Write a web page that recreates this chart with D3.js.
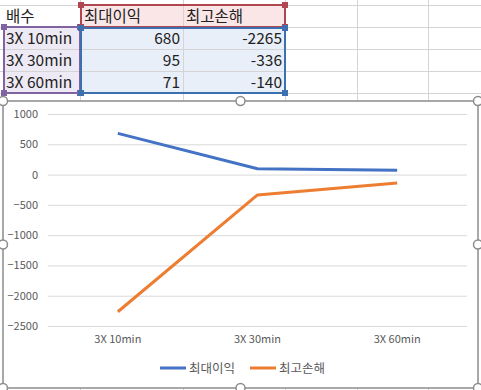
<!DOCTYPE html>
<html>
<head>
<meta charset="utf-8">
<script src="https://cdn.jsdelivr.net/npm/d3@7"></script>
<style>
  body { margin: 0; background: #fff; }
  svg { display: block; }
</style>
</head>
<body>
<svg width="481" height="390"></svg>
<script>
// data for the sheet and the chart
var categories = ["3X 10min", "3X 30min", "3X 60min"];
var seriesNames = ["최대이익", "최고손해"];
var maxProfit = [680, 95, 71];
var maxLoss = [-2265, -336, -140];
var yTicks = [1000, 500, 0, -500, -1000, -1500, -2000, -2500];
var headerLabel = "배수";

var colors = ["#4472C4", "#ED7D31"];
var font = "'Noto Sans CJK KR', 'Noto Sans', sans-serif";

var svg = d3.select("svg");

// ---- spreadsheet behind the chart ----
var colEdges = [80, 183, 285, 357, 428];
var rowEdges = [5, 27, 49, 71, 93];
var sheet = svg.append("g");

// selection fills
sheet.append("rect").attr("x", 80).attr("y", 5).attr("width", 205).attr("height", 22).attr("fill", "#FBE6E7");
sheet.append("rect").attr("x", 3).attr("y", 27).attr("width", 77).attr("height", 66).attr("fill", "#EEEAF5");
sheet.append("rect").attr("x", 80).attr("y", 27).attr("width", 205).attr("height", 66).attr("fill", "#E9EFF9");

// gridlines
rowEdges.forEach(function(y) {
  sheet.append("line").attr("x1", 0).attr("x2", 481).attr("y1", y + 0.5).attr("y2", y + 0.5)
    .attr("stroke", "#D4D4D4");
});
colEdges.forEach(function(x) {
  sheet.append("line").attr("x1", x + 0.5).attr("x2", x + 0.5).attr("y1", 0).attr("y2", 390)
    .attr("stroke", "#D4D4D4");
});

// cell text
var rows = [[headerLabel, seriesNames[0], seriesNames[1]]];
categories.forEach(function(c, i) { rows.push([c, maxProfit[i], maxLoss[i]]); });
rows.forEach(function(r, i) {
  var y = rowEdges[i] + 17;
  sheet.append("text").attr("x", 6).attr("y", y).text(r[0]);
  if (i == 0) {
    sheet.append("text").attr("x", 84).attr("y", y).text(r[1]);
    sheet.append("text").attr("x", 186).attr("y", y).text(r[2]);
  } else {
    sheet.append("text").attr("x", 180).attr("y", y).attr("text-anchor", "end").text(r[1]);
    sheet.append("text").attr("x", 282).attr("y", y).attr("text-anchor", "end").text(r[2]);
  }
});
sheet.selectAll("text").attr("font-family", font).attr("font-size", "15.5px").attr("fill", "#222");

// selection borders
function selBox(x, y, w, h, col) {
  sheet.append("rect").attr("x", x).attr("y", y).attr("width", w).attr("height", h)
    .attr("fill", "none").attr("stroke", col).attr("stroke-width", 2);
  [[x, y], [x + w, y], [x, y + h], [x + w, y + h]].forEach(function(p) {
    sheet.append("rect").attr("x", p[0] - 3).attr("y", p[1] - 3).attr("width", 6).attr("height", 6)
      .attr("fill", col);
  });
}
selBox(4, 27, 76, 66, "#8064A2");
selBox(81, 5, 204, 22, "#B04650");
selBox(81, 28, 204, 65, "#3E70B0");

// ---- chart ----
var chartX = 3, chartY = 101, chartW = 475, chartH = 287;
svg.append("rect").attr("x", chartX).attr("y", chartY).attr("width", chartW).attr("height", chartH)
  .attr("fill", "#fff").attr("stroke", "#8C8C8C").attr("stroke-width", 1.5);

var xScale = d3.scaleBand().domain(categories).range([48, 467]);
var yScale = d3.scaleLinear().domain([-2500, 1000]).range([326, 114]);

var g = svg.append("g");

// gridlines via axis
g.append("g")
  .attr("transform", "translate(48,0)")
  .call(d3.axisRight(yScale).tickValues(yTicks).tickSize(419).tickFormat(""))
  .call(function(a) {
    a.select(".domain").remove();
    a.selectAll("line").attr("stroke", "#D9D9D9");
  });

// y tick labels
g.append("g")
  .attr("transform", "translate(40,0)")
  .call(d3.axisLeft(yScale).tickValues(yTicks).tickSize(0).tickPadding(2).tickFormat(d3.format("d")))
  .call(function(a) {
    a.select(".domain").remove();
    a.selectAll("text").attr("font-family", font).attr("font-size", "11px").attr("fill", "#595959");
  });

// x tick labels
g.append("g")
  .attr("transform", "translate(0,326)")
  .call(d3.axisBottom(xScale).tickSize(0).tickPadding(9))
  .call(function(a) {
    a.select(".domain").remove();
    a.selectAll("text").attr("font-family", font).attr("font-size", "11px").attr("fill", "#595959");
  });

var line = d3.line()
  .x(function(d, i) { return xScale(categories[i]) + xScale.bandwidth() / 2; })
  .y(function(d) { return yScale(d); });

[maxProfit, maxLoss].forEach(function(s, i) {
  g.append("path").datum(s).attr("d", line)
    .attr("fill", "none").attr("stroke", colors[i]).attr("stroke-width", 3)
    .attr("stroke-linejoin", "round");
});

// legend
var legend = svg.append("g").attr("transform", "translate(160,368)");
var legX = [0, 90];
seriesNames.forEach(function(n, i) {
  legend.append("line").attr("x1", legX[i]).attr("x2", legX[i] + 26).attr("y1", 0).attr("y2", 0)
    .attr("stroke", colors[i]).attr("stroke-width", 3);
  legend.append("text").attr("x", legX[i] + 29).attr("y", 4.5).text(n)
    .attr("font-family", font).attr("font-size", "12.5px").attr("fill", "#595959");
});

// selection handles on chart frame
var handles = [[chartX, chartY], [chartX + chartW / 2, chartY], [chartX + chartW, chartY],
  [chartX, chartY + chartH / 2], [chartX + chartW, chartY + chartH / 2],
  [chartX, chartY + chartH], [chartX + chartW / 2, chartY + chartH], [chartX + chartW, chartY + chartH]];
svg.selectAll(".handle").data(handles).enter().append("circle")
  .attr("class", "handle")
  .attr("cx", function(d) { return d[0]; })
  .attr("cy", function(d) { return d[1]; })
  .attr("r", 4.5)
  .attr("fill", "#fff").attr("stroke", "#8C8C8C").attr("stroke-width", 1.5);
</script>
</body>
</html>
